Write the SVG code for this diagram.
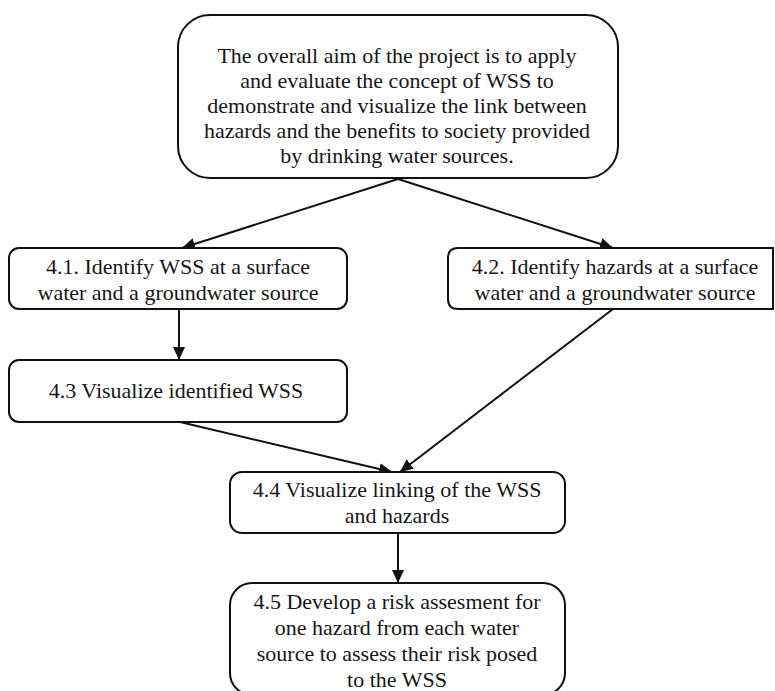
<svg xmlns="http://www.w3.org/2000/svg" width="775" height="691" viewBox="0 0 775 691">
  <style>
    .box { fill: #ffffff; stroke: #111111; stroke-width: 2; }
    .lbl { font-family: "Liberation Serif", "Times New Roman", serif; font-size: 22px; fill: #161616; text-anchor: middle; }
    .edge { stroke: #111111; stroke-width: 2; fill: none; marker-end: url(#arrow); }
  </style>
  <defs>
    <marker id="arrow" markerUnits="userSpaceOnUse" markerWidth="14" markerHeight="12" refX="13" refY="6" orient="auto">
      <path d="M0,0 L13,6 L0,12 Z" fill="#111111"/>
    </marker>
  </defs>

  <rect width="775" height="691" fill="#ffffff"/>

  <!-- connectors -->
  <g id="connectors">
    <line class="edge" x1="398" y1="179" x2="182" y2="248"/>
    <line class="edge" x1="398" y1="179" x2="613" y2="248"/>
    <line class="edge" x1="179" y1="309" x2="179" y2="360"/>
    <line class="edge" x1="180" y1="422" x2="392" y2="472"/>
    <line class="edge" x1="613" y1="309" x2="400" y2="472"/>
    <line class="edge" x1="398" y1="533" x2="398" y2="583"/>
  </g>

  <!-- overall aim -->
  <g id="aim">
    <rect class="box" x="178" y="15" width="440" height="163" rx="32" ry="32"/>
    <text class="lbl" x="397" y="63">The overall aim of the project is to apply</text>
    <text class="lbl" x="397" y="88">and evaluate the concept of WSS to</text>
    <text class="lbl" x="397" y="113">demonstrate and visualize the link between</text>
    <text class="lbl" x="397" y="138">hazards and the benefits to society provided</text>
    <text class="lbl" x="397" y="163">by drinking water sources.</text>
  </g>

  <!-- 4.1 -->
  <g id="task-4-1">
    <rect class="box" x="9" y="248" width="338" height="61" rx="10" ry="10"/>
    <text class="lbl" x="178" y="274">4.1. Identify WSS at a surface</text>
    <text class="lbl" x="178" y="300">water and a groundwater source</text>
  </g>

  <!-- 4.2 -->
  <g id="task-4-2">
    <path class="box" d="M458,248 H773 V309 H458 Q448,309 448,299 V258 Q448,248 458,248 Z"/>
    <text class="lbl" x="615" y="274">4.2. Identify hazards at a surface</text>
    <text class="lbl" x="615" y="300">water and a groundwater source</text>
  </g>

  <!-- 4.3 -->
  <g id="task-4-3">
    <rect class="box" x="9" y="360" width="338" height="62" rx="10" ry="10"/>
    <text class="lbl" x="176" y="398">4.3 Visualize identified WSS</text>
  </g>

  <!-- 4.4 -->
  <g id="task-4-4">
    <rect class="box" x="230" y="472" width="335" height="61" rx="12" ry="12"/>
    <text class="lbl" x="397" y="497">4.4 Visualize linking of the WSS</text>
    <text class="lbl" x="397" y="523">and hazards</text>
  </g>

  <!-- 4.5 -->
  <g id="task-4-5">
    <rect class="box" x="230" y="583" width="335" height="112" rx="22" ry="22"/>
    <text class="lbl" x="397" y="609">4.5 Develop a risk assesment for</text>
    <text class="lbl" x="397" y="635">one hazard from each water</text>
    <text class="lbl" x="397" y="661">source to assess their risk posed</text>
    <text class="lbl" x="397" y="687">to the WSS</text>
  </g>
</svg>
